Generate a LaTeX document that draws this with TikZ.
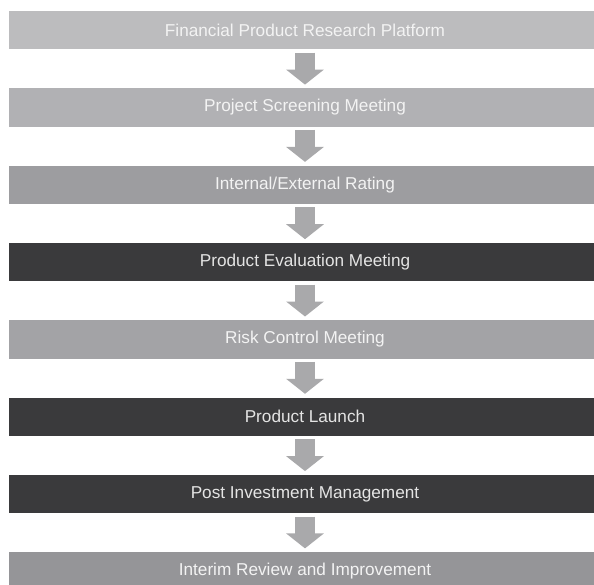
\documentclass[tikz,border=0pt]{standalone}
\usepackage{fontspec}
\setmainfont{Liberation Sans}
\usetikzlibrary{arrows.meta}

\definecolor{barA}{HTML}{BCBCBE}
\definecolor{barB}{HTML}{B1B1B4}
\definecolor{barC}{HTML}{9D9DA0}
\definecolor{barD}{HTML}{3A3A3C}
\definecolor{barE}{HTML}{A3A3A6}
\definecolor{barF}{HTML}{959598}
\definecolor{arrowgray}{HTML}{A9A9AB}
\definecolor{lighttext}{HTML}{F3F3F3}
\definecolor{darktext}{HTML}{E4E4E4}

\tikzset{
  stagebar/.style={rectangle, inner sep=0pt, minimum width=592pt, minimum height=38.5pt,
    font=\fontsize{17.2}{19}\selectfont, text=lighttext},
  darkbar/.style={stagebar, fill=barD, text=darktext},
  flowarrow/.style={draw=arrowgray, line width=20pt, line cap=butt,
    -{Triangle[width=37pt,length=15pt]}}
}

\begin{document}
\begin{tikzpicture}[x=1pt,y=-1pt]
  \useasboundingbox (0,0) rectangle (594,585);
  \clip (0,0) rectangle (594,585);
  \fill[white] (0,0) rectangle (594,585);

  % stage bars, top to bottom (pitch 77.3pt)
  \node[stagebar, fill=barA] (b1) at (305, 30.25)  {Financial Product Research Platform};
  \node[stagebar, fill=barB] (b2) at (305, 107.55) {Project Screening Meeting};
  \node[stagebar, fill=barC] (b3) at (305, 184.85) {Internal/External Rating};
  \node[darkbar]             (b4) at (305, 262.15) {Product Evaluation Meeting};
  \node[stagebar, fill=barE] (b5) at (305, 339.45) {Risk Control Meeting};
  \node[darkbar]             (b6) at (305, 416.75) {Product Launch};
  \node[darkbar]             (b7) at (305, 494.05) {Post Investment Management};
  \node[stagebar, fill=barF] (b8) at (305, 571.35) {Interim Review and Improvement};

  % block arrows between consecutive stages
  \foreach \a/\b in {b1/b2, b2/b3, b3/b4, b4/b5, b5/b6, b6/b7, b7/b8}
    \draw[flowarrow] ([yshift=-3pt]\a.south) -- ([yshift=3.5pt]\b.north);
\end{tikzpicture}
\end{document}
